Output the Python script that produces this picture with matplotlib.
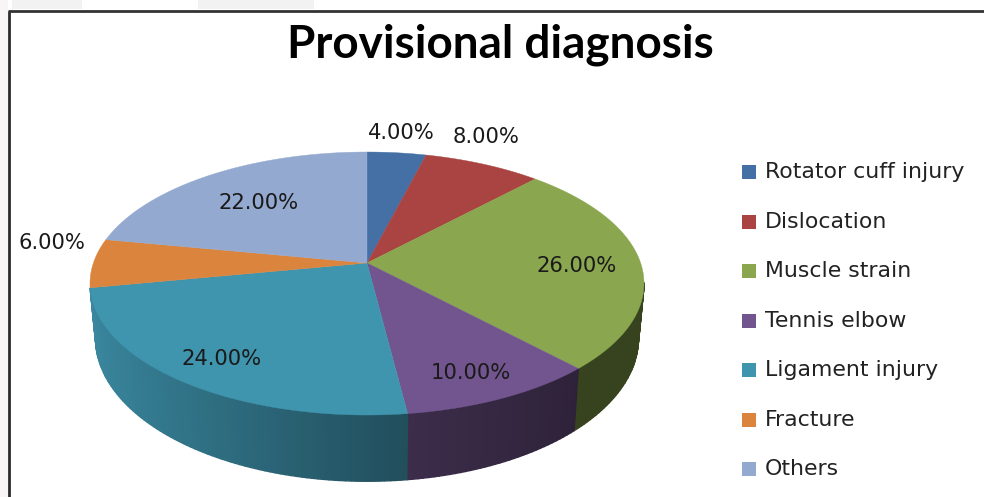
import numpy as np
import matplotlib
matplotlib.use("Agg")
import matplotlib.pyplot as plt
from matplotlib.patches import Polygon, Rectangle
from matplotlib.colors import to_rgb

# Data
categories = ['Rotator cuff injury', 'Dislocation', 'Muscle strain', 'Tennis elbow',
              'Ligament injury', 'Fracture', 'Others']
values = [4, 8, 26, 10, 24, 6, 22]
colors = ['#4470A5', '#A94442', '#8AA64E', '#72558E', '#3F94AE', '#DB843D', '#93A9CF']

# Data label centres, pixels
label_pos = [(401, 133), (486, 137), (577, 266), (471, 373), (222, 359), (52, 243), (259, 203)]
legend_y = [172, 222, 271, 321, 370, 420, 469]

# Slices that show a side wall
wall_slices = [2, 3, 4]

# Pie geometry, pixels
CX, CY = 367, 263
RX, RY = 273.6, 128.3
PERSP = 0.156
DEPTH = 53
BOTTOM_SX, BOTTOM_SY = 0.98, 1.087


def top_rim(theta):
    # theta runs clockwise from 12 o'clock; the far side is foreshortened
    x, y = np.sin(theta), np.cos(theta)
    w = 1 + PERSP * y
    return CX + RX * x / w, CY - RY * y / w


def bottom_rim(theta):
    sx, sy = top_rim(theta)
    return CX + (sx - CX) * BOTTOM_SX, CY + DEPTH + (sy - CY) * BOTTOM_SY


def side_shade(theta):
    # side wall gets darker from left to right
    return np.interp(np.sin(theta), [-1, 0.12, 0.7, 1], [0.92, 0.53, 0.40, 0.40])


fig = plt.figure(figsize=(9.84, 4.97), dpi=100)
ax = fig.add_axes([0, 0, 1, 1])
ax.set_xlim(0, 984)
ax.set_ylim(497, 0)
ax.axis('off')

# Surroundings of the chart frame
ax.add_patch(Rectangle((0, 0), 8, 497, color='#F7F5F5', lw=0))
ax.add_patch(Rectangle((12, 0), 70, 9, color='#F2F2F2', lw=0))
ax.add_patch(Rectangle((198, 0), 116, 9, color='#F2F2F2', lw=0))
ax.plot([8.5, 8.5], [497, 11], color='#2B2B2B', lw=2.0, solid_capstyle='butt')
ax.plot([8, 984], [11, 11], color='#333333', lw=2.0, solid_capstyle='butt')

edges = np.cumsum([0] + values) / sum(values) * 2 * np.pi

# Side wall first, the top surface covers whatever is behind it
for i in wall_slices:
    start, end = edges[i], edges[i + 1]
    base = np.array(to_rgb(colors[i]))
    steps = max(int((end - start) / np.radians(1.0)), 1)
    t = np.linspace(start, end, steps + 1)
    for a, b in zip(t[:-1], t[1:]):
        # wall starts at the widest point of the rim
        if np.cos((a + b) / 2) > -0.15:
            continue
        x0, y0 = top_rim(a)
        x1, y1 = top_rim(b)
        x2, y2 = bottom_rim(b)
        x3, y3 = bottom_rim(a)
        shade = base * side_shade((a + b) / 2)
        ax.add_patch(Polygon([(x0, y0), (x1, y1), (x2, y2), (x3, y3)],
                             facecolor=shade, edgecolor=shade, lw=1.0))

# Top surface
for start, end, col in zip(edges[:-1], edges[1:], colors):
    t = np.linspace(start, end, 120)
    xs, ys = top_rim(t)
    pts = np.column_stack([np.r_[CX, xs], np.r_[CY, ys]])
    ax.add_patch(Polygon(pts, facecolor=col, edgecolor=col, lw=0.3))

# Value labels
for v, (lx, ly) in zip(values, label_pos):
    ax.text(lx, ly, f'{v:.2f}%', ha='center', va='center', fontsize=15.2,
            family='DejaVu Sans', color='#1A1A1A')

# Legend
for name, col, ly in zip(categories, colors, legend_y):
    ax.add_patch(Rectangle((742, ly - 7), 14, 14, facecolor=col, edgecolor='none'))
    ax.text(765, ly, name, ha='left', va='center', fontsize=15.8,
            family='DejaVu Sans', color='#222222')

ax.text(500, 45, 'Provisional diagnosis', ha='center', va='center', fontsize=33,
        family='Lato', fontweight='bold', color='black')

plt.savefig('out.png', dpi=100)
plt.close()
